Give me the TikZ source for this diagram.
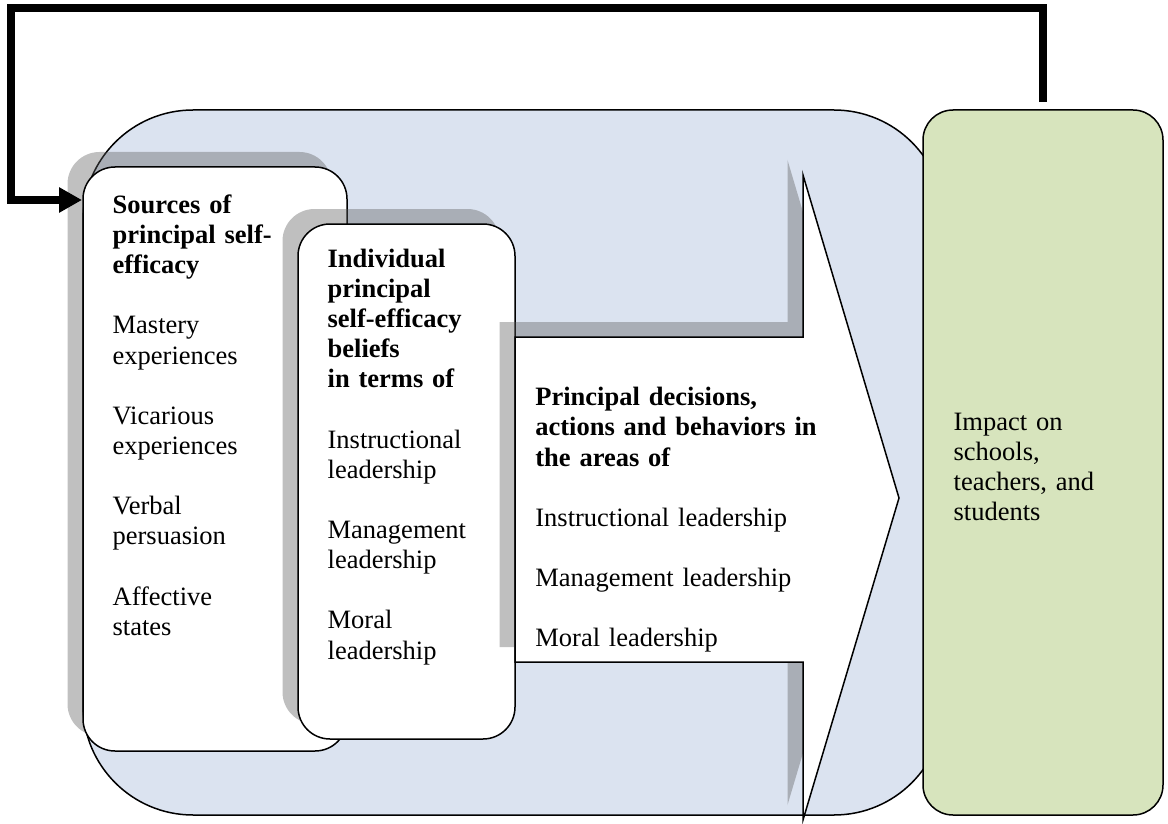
\documentclass[tikz,border=0pt]{standalone}
\usepackage{fontspec}
\setmainfont{Liberation Serif}
\usepackage{tikz}
\usetikzlibrary{shadows, arrows.meta, positioning}
\definecolor{frameblue}{RGB}{219,227,240}
\definecolor{impactgreen}{RGB}{215,228,189}

\begin{document}
\begin{tikzpicture}[
    x=0.5pt, y=-0.5pt,
    font=\fontsize{13.25}{15.1}\selectfont,
    boxshadow/.style={drop shadow={shadow xshift=-7.75pt, shadow yshift=7.5pt, fill=black!64, opacity=0.39}},
    panel/.style={draw=black, fill=frameblue, rectangle, rounded corners=55pt, line width=0.75pt, inner sep=0pt},
    box/.style={draw=black, fill=white, rectangle, rounded corners=16pt, line width=0.75pt, inner sep=0pt, boxshadow},
    impactbox/.style={draw=black, fill=impactgreen, rectangle, rounded corners=15pt, line width=0.75pt, inner sep=0pt},
    flow/.style={draw=black, fill=white, line width=0.75pt, line join=miter, boxshadow},
    txt/.style={inner sep=0pt, align=left},
    feedback/.style={line width=4pt, -{Triangle[length=11.5pt, width=12pt]}}
]
\useasboundingbox (0,0) rectangle (1168,824);

% outer frame
\node[panel, minimum width=430.5pt, minimum height=352.5pt] (frame) at (513.5,462.5) {};

% sources and beliefs
\node[box, minimum width=132pt, minimum height=292pt] (src) at (215,459) {};
\node[box, minimum width=108.5pt, minimum height=257.5pt] (beliefs) at (406.5,481.5) {};

% block arrow
\coordinate (a1) at (515,337);
\draw[flow] (a1) -- (803,337) -- (803,175) -- (899,498) -- (803,820) -- (803,662) -- (515,662) -- cycle;

\node[impactbox, minimum width=120pt, minimum height=352.5pt] (impact) at (1043,462.5) {};

% texts
\node[txt, text width=110pt, below right=14pt and 15pt of src.north west] (srctxt) {\textbf{Sources of\\principal self-\\efficacy}\\[15pt]
    Mastery\\experiences\\[15pt]
    Vicarious\\experiences\\[15pt]
    Verbal\\persuasion\\[15pt]
    Affective\\states};
\node[txt, text width=95pt, below right=12.5pt and 15pt of beliefs.north west] (beliefstxt) {\textbf{Individual\\principal\\self-efficacy\\beliefs\\in terms of}\\[15pt]
    Instructional\\leadership\\[15pt]
    Management\\leadership\\[15pt]
    Moral\\leadership};
\node[txt, text width=150pt, below right=25pt and 10pt of a1] (actstxt) {\textbf{Principal decisions,\\actions and behaviors in\\the areas of}\\[15pt]
    Instructional leadership\\[15pt]
    Management leadership\\[15pt]
    Moral leadership};
\node[txt, text width=85pt, right=15.5pt of impact.west, yshift=-2.25pt] (impacttxt) {Impact on\\schools,\\teachers, and\\students};

% feedback loop
\coordinate (fbcorner) at (11,8);
\coordinate (fbin) at (82,200);
\draw[feedback, shorten <=3.5pt] (impact.north) |- (fbcorner) |- (fbin);
\end{tikzpicture}
\end{document}
